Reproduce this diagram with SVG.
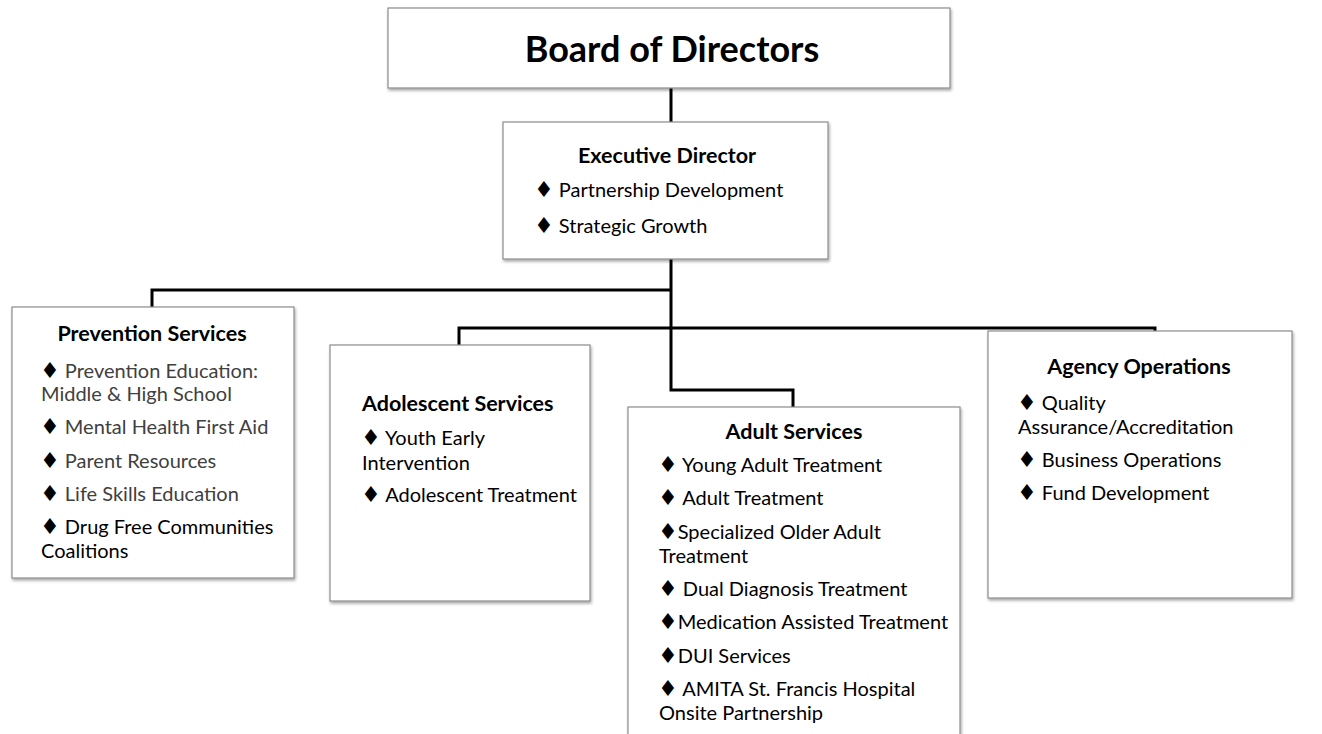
<svg xmlns="http://www.w3.org/2000/svg" width="1322" height="734" viewBox="0 0 1322 734">
<defs>
<filter id="sh" x="-5%" y="-5%" width="115%" height="115%">
<feDropShadow dx="1" dy="2" stdDeviation="1.5" flood-color="#000" flood-opacity="0.35"/>
</filter>
<style>
.box{fill:#fff;stroke:#8c8c8c;stroke-width:1.2;filter:url(#sh)}
.t{font-family:Lato,"Liberation Sans",sans-serif;font-size:20px;fill:#000}
.g{fill:#404040}
.d{font-family:"DejaVu Sans",sans-serif;font-size:22px;fill:#000}
.h{font-family:Lato,"Liberation Sans",sans-serif;font-size:21.5px;font-weight:bold;fill:#000}
.big{font-family:Lato,"Liberation Sans",sans-serif;font-size:36px;font-weight:bold;fill:#000}
.c{fill:none;stroke:#000;stroke-width:3}
</style>
</defs>
<rect width="1322" height="734" fill="#fff"/>
<g id="connectors">
<path class="c" d="M671,88 V122"/>
<path class="c" d="M671,259 V390 H793 V407"/>
<path class="c" d="M671,290 H152 V307"/>
<path class="c" d="M459,345 V328 H1155 V331"/>
</g>
<g id="board">
<rect class="box" x="388" y="8" width="562" height="80"/>
<text class="big" x="672" y="62" text-anchor="middle">Board of Directors</text>
</g>
<g id="executive">
<rect class="box" x="503" y="122" width="325" height="137"/>
<text class="h" x="667" y="163" text-anchor="middle">Executive Director</text>
<text class="t" x="534" y="197"><tspan class="d">♦</tspan> Partnership Development</text>
<text class="t" x="534" y="233"><tspan class="d">♦</tspan> Strategic Growth</text>
</g>
<g id="prevention">
<rect class="box" x="12" y="307" width="282" height="271"/>
<text class="h" x="152" y="341" text-anchor="middle">Prevention Services</text>
<text class="t g" x="40" y="378"><tspan class="d">♦</tspan> Prevention Education:</text>
<text class="t g" x="41" y="401">Middle &amp; High School</text>
<text class="t g" x="40" y="434"><tspan class="d">♦</tspan> Mental Health First Aid</text>
<text class="t g" x="40" y="468"><tspan class="d">♦</tspan> Parent Resources</text>
<text class="t g" x="40" y="501"><tspan class="d">♦</tspan> Life Skills Education</text>
<text class="t" x="40" y="534"><tspan class="d">♦</tspan> Drug Free Communities</text>
<text class="t" x="41" y="558">Coalitions</text>
</g>
<g id="adolescent">
<rect class="box" x="330" y="345" width="260" height="256"/>
<text class="h" x="362" y="411">Adolescent Services</text>
<text class="t" x="361" y="445"><tspan class="d">♦</tspan> Youth Early</text>
<text class="t" x="362" y="470">Intervention</text>
<text class="t" x="361" y="502"><tspan class="d">♦</tspan> Adolescent Treatment</text>
</g>
<g id="adult">
<rect class="box" x="628" y="407" width="332" height="340"/>
<text class="h" x="794" y="439" text-anchor="middle">Adult Services</text>
<text class="t" x="658" y="472"><tspan class="d">♦</tspan> Young Adult Treatment</text>
<text class="t" x="658" y="505"><tspan class="d">♦</tspan> Adult Treatment</text>
<text class="t" x="658" y="539"><tspan class="d">♦</tspan>Specialized Older Adult</text>
<text class="t" x="659" y="563">Treatment</text>
<text class="t" x="658" y="596"><tspan class="d">♦</tspan> Dual Diagnosis Treatment</text>
<text class="t" x="658" y="629"><tspan class="d">♦</tspan>Medication Assisted Treatment</text>
<text class="t" x="658" y="663"><tspan class="d">♦</tspan>DUI Services</text>
<text class="t" x="658" y="696"><tspan class="d">♦</tspan> AMITA St. Francis Hospital</text>
<text class="t" x="659" y="720">Onsite Partnership</text>
</g>
<g id="agency">
<rect class="box" x="988" y="331" width="304" height="267"/>
<text class="h" x="1139" y="374" text-anchor="middle">Agency Operations</text>
<text class="t" x="1017" y="410"><tspan class="d">♦</tspan> Quality</text>
<text class="t" x="1018" y="434">Assurance/Accreditation</text>
<text class="t" x="1017" y="467"><tspan class="d">♦</tspan> Business Operations</text>
<text class="t" x="1017" y="500"><tspan class="d">♦</tspan> Fund Development</text>
</g>
</svg>
